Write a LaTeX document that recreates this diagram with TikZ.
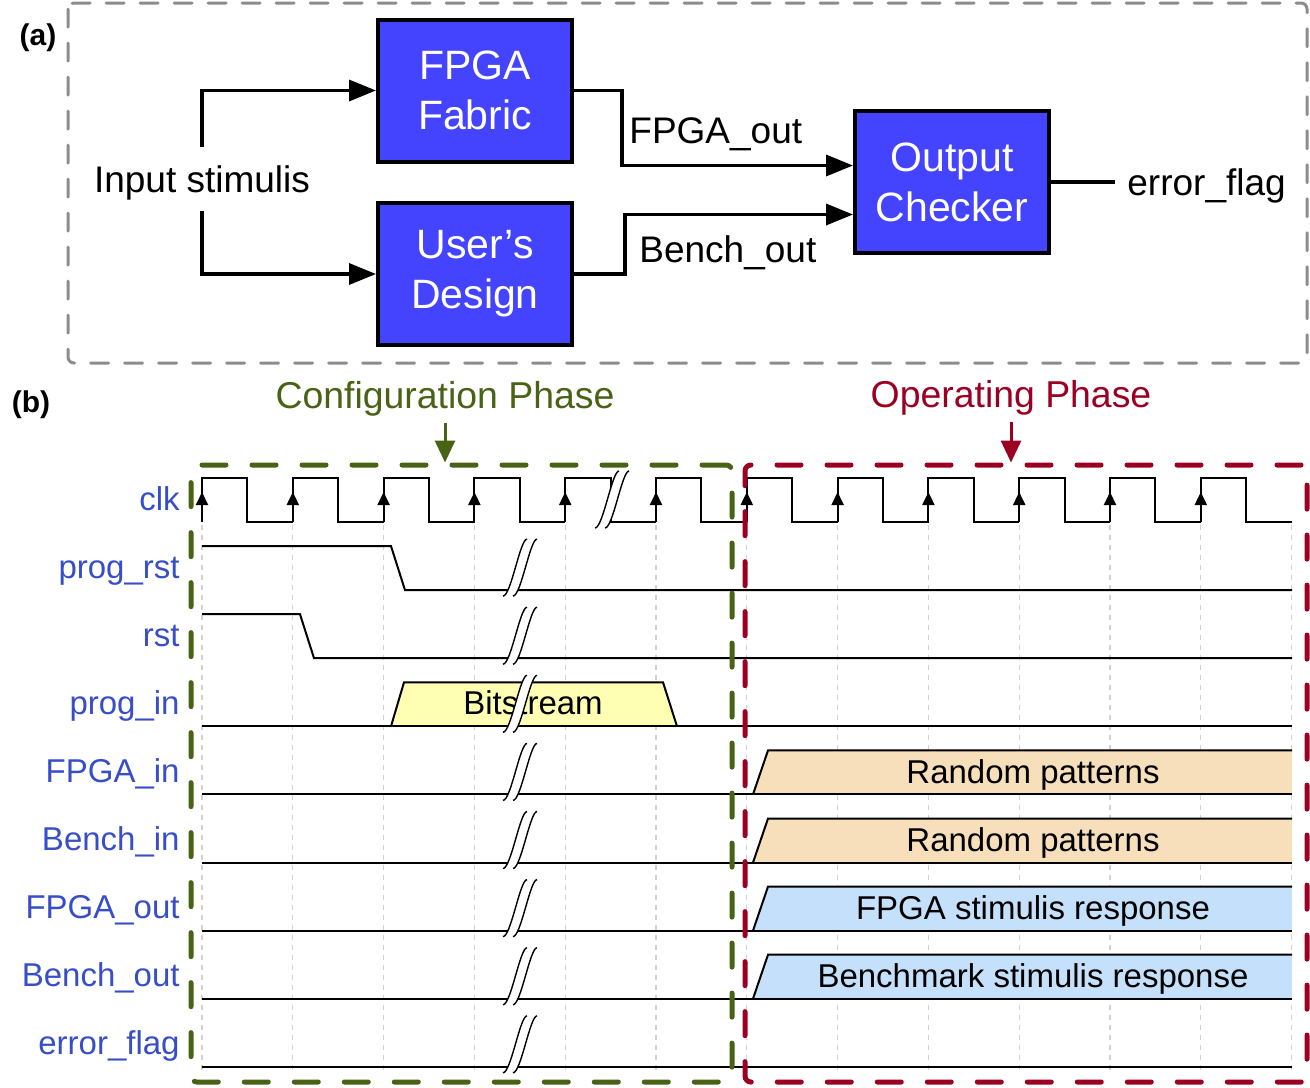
\documentclass[tikz,border=0pt]{standalone}
\usepackage{fontspec}
\setmainfont{Liberation Sans}
\usetikzlibrary{arrows.meta}
\definecolor{boxblue}{RGB}{68,68,255}
\definecolor{cfggreen}{RGB}{72,98,22}
\definecolor{oprred}{RGB}{155,0,35}
\definecolor{sigblue}{RGB}{55,78,200}
\definecolor{bitsyellow}{RGB}{255,255,180}
\definecolor{pattan}{RGB}{246,223,186}
\definecolor{respblue}{RGB}{197,224,250}
\tikzset{
  blk/.style={draw,line width=2pt,fill=boxblue,text=white,minimum width=97pt,minimum height=71pt,
    align=center,font=\fontsize{20.5}{25}\selectfont},
  lbl/.style={inner sep=0pt,font=\fontsize{18.5}{22}\selectfont},
  conn/.style={line width=1.75pt,-{Triangle[length=13.5pt,width=10.5pt]}},
  tag/.style={font=\bfseries\fontsize{15}{18}\selectfont},
  sig/.style={text=sigblue,anchor=base east,inner sep=0pt,font=\fontsize{16.5}{20}\selectfont},
  wave/.style={line width=1pt},
  wtxt/.style={anchor=base,font=\fontsize{16.5}{20}\selectfont},
  gridline/.style={gray!35,line width=0.6pt,dash pattern=on 2.5pt off 2.5pt},
  phasebox/.style={draw=#1,line width=2.5pt,dash pattern=on 12pt off 13pt,line cap=round,
    rounded corners=3pt,minimum height=308.5pt},
  phasetxt/.style={anchor=base,text=#1,font=\fontsize{18.7}{22}\selectfont},
  brk/.pic={
    \fill[white] (-17,6) .. controls (-9,6) and (0,-51) .. (7,-51) -- (17,-51)
      .. controls (10,-51) and (1,6) .. (-7,6) -- cycle;
    \draw[line width=0.7pt] (-17,6) .. controls (-9,6) and (0,-51) .. (7,-51);
    \draw[line width=0.7pt] (-7,6) .. controls (1,6) and (10,-51) .. (17,-51);
  }
}
\begin{document}
\begin{tikzpicture}[x=0.5pt,y=-0.5pt]
  \useasboundingbox (0,0) rectangle (1310,1087);
  % (a)
  \node[tag] (tag-a) at (38,38) {(a)};
  \draw[gray!90,line width=1.5pt,dash pattern=on 9pt off 8pt,line cap=round,rounded corners=3pt]
    (68,3) rectangle (1307,363);
  \node[blk] (fab) at (475,90.5) {FPGA\\Fabric};
  \node[blk] (usr) at (475,274) {User's\\Design};
  \node[blk] (chk) at (952,182) {Output\\Checker};
  \node[lbl,text height=13.6pt,text depth=0pt,inner ysep=9pt] (stim) at (202,179) {Input stimulis};
  \draw[conn] (stim.north) |- (fab.west);
  \draw[conn] (stim.south) |- (usr.west);
  \draw[conn] (fab.east) -- ++(48,0) |- ([yshift=8.25pt]chk.west);
  \draw[conn] (usr.east) -- ++(51,0) |- ([yshift=-16.25pt]chk.west);
  \node[lbl,anchor=base west] (fpga-out) at (629,143) {FPGA\_out};
  \node[lbl,anchor=base west] (bench-out) at (639,262) {Bench\_out};
  \node[lbl,anchor=base west,inner xsep=6pt] (err) at (1115,195) {error\_flag};
  \draw[line width=1.75pt] (chk.east) -- (chk.east -| err.west);
  % (b)
  \node[tag] (tag-b) at (31,405) {(b)};
  \node[phasetxt=cfggreen] (cfg) at (445,408) {Configuration Phase};
  \node[phasetxt=oprred] (opr) at (1011,407) {Operating Phase};
  \foreach \name [count=\k from 0] in {clk,prog\_rst,rst,prog\_in,FPGA\_in,Bench\_in,FPGA\_out,Bench\_out,error\_flag}
    \node[sig] (sig-\k) at (180,510+68.1*\k) {\name};
  \foreach \n in {0,...,12}
    \draw[gridline] (202+90.8*\n,525) -- (202+90.8*\n,1075);
  % clk
  \begin{scope}[shift={(0,522)}]
    \foreach \n in {0,...,11} {
      \draw[wave] (202+90.8*\n,0) |- (247.4+90.8*\n,-44) |- (293+90.8*\n,0);
      \draw[wave,-{Triangle[length=6.5pt,width=6pt]}] (202+90.8*\n,0) -- (202+90.8*\n,-30);
    }
    \pic at (612,0) {brk};
  \end{scope}
  \draw[wave] (202,546.1) -- (391,546.1) -- (405,590.1) -- (1292,590.1);
  \draw[wave] (202,614.2) -- (300,614.2) -- (314,658.2) -- (1292,658.2);
  \begin{scope}[shift={(0,726.3)}]
    \fill[bitsyellow] (391,0) -- (404,-44) -- (663,-44) -- (677,0) -- cycle;
    \draw[wave] (391,0) -- (404,-44) -- (663,-44) -- (677,0);
    \node[wtxt] (bits) at (533,-11.5) {Bitstream};
  \end{scope}
  \foreach \k/\col/\txt in {4/pattan/Random patterns,5/pattan/Random patterns,
      6/respblue/FPGA stimulis response,7/respblue/Benchmark stimulis response} {
    \begin{scope}[shift={(0,522+68.1*\k)}]
      \fill[\col] (753,0) -- (768,-44) -- (1292,-44) -- (1292,0) -- cycle;
      \draw[wave] (753,0) -- (768,-44) -- (1292,-44);
      \node[wtxt] (txt-\k) at (1033,-11) {\txt};
    \end{scope}
  }
  \foreach \k in {3,...,8}
    \draw[wave] (202,522+68.1*\k) -- (1292,522+68.1*\k);
  \foreach \k in {1,...,8}
    \pic at (520,522+68.1*\k) {brk};
  % phases
  \node[phasebox=cfggreen,minimum width=270.5pt] (cfgbox) at (461.5,773.5) {};
  \node[phasebox=oprred,minimum width=281pt] (oprbox) at (1026,773.5) {};
  \draw[cfggreen,line width=1.5pt,-{Triangle[length=11pt,width=10pt]}] (cfg.south) -- (cfg.south |- cfgbox.north);
  \draw[oprred,line width=1.5pt,-{Triangle[length=11pt,width=10pt]}] (opr.south) -- (opr.south |- oprbox.north);
\end{tikzpicture}
\end{document}
